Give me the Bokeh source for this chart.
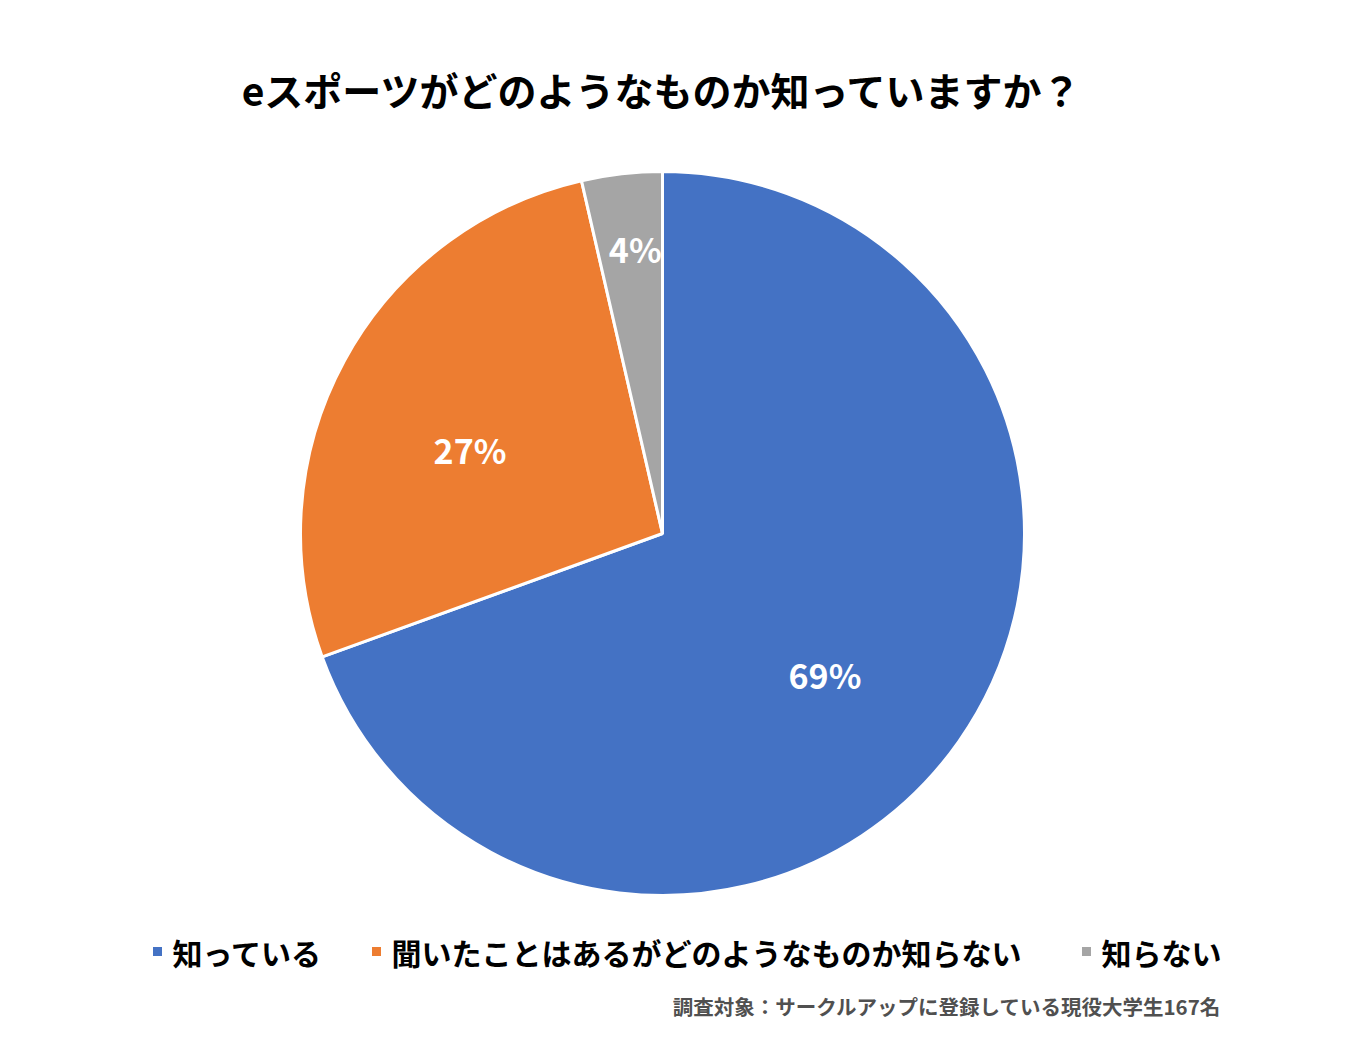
import math
from bokeh.plotting import figure
from bokeh.models import Range1d, ColumnDataSource
from bokeh.core.properties import value
from bokeh.embed import file_html
from bokeh.resources import INLINE

# ---- data ----
title = "eスポーツがどのようなものか知っていますか？"
categories = ["知っている", "聞いたことはあるがどのようなものか知らない", "知らない"]
counts = [116, 45, 6]
labels = ["69%", "27%", "4%"]
colors = ["#4472C4", "#ED7D31", "#A5A5A5"]
note = "調査対象：サークルアップに登録している現役大学生167名"

# ---- layout ----
W, H = 1334, 1035
PAGE_H = 1051
def sy(y):  # screen y -> data y
    return PAGE_H - y

FONT = "Noto Sans CJK JP"
cx, cy, R = 662, sy(533), 362
label_r = [0.595, 0.58, 0.79]
label_dang = [-6.0, 5.0, -1.0]  # degrees, label offset from slice middle
legend_sq_x = [157, 376, 1086]
legend_y = sy(951)

p = figure(width=W, height=H, output_backend="svg", toolbar_location=None,
           x_range=Range1d(0, W), y_range=Range1d(sy(H), sy(0)),
           min_border=0)
p.axis.visible = False
p.grid.visible = False
p.outline_line_color = None
p.background_fill_color = "white"
p.border_fill_color = "white"

total = sum(counts)
starts, ends, mids = [], [], []
cum = 0
for c in counts:
    a0 = math.pi / 2 - 2 * math.pi * cum / total
    cum += c
    a1 = math.pi / 2 - 2 * math.pi * cum / total
    starts.append(a0)
    ends.append(a1)
    mids.append((a0 + a1) / 2)

src = ColumnDataSource(dict(start=starts, end=ends, color=colors))
p.wedge(x=cx, y=cy, radius=R, start_angle="start", end_angle="end",
        direction="clock", fill_color="color", line_color="white",
        line_width=3, source=src)

angs = [m + math.radians(d) for m, d in zip(mids, label_dang)]
lx = [cx + R * f * math.cos(a) for f, a in zip(label_r, angs)]
ly = [cy + R * f * math.sin(a) for f, a in zip(label_r, angs)]
p.text(x=lx, y=ly, text=labels, text_color="white",
       text_font=value(FONT), text_font_style="bold", text_font_size="34px",
       text_align="center", text_baseline="middle")

# title
p.text(x=[662], y=[sy(88)], text=[title], text_color="black",
       text_font=value(FONT), text_font_style="bold", text_font_size="39px",
       text_align="center", text_baseline="middle")

# legend
p.rect(x=legend_sq_x, y=[legend_y] * 3, width=9, height=9,
       fill_color=colors, line_color=None)
p.text(x=[x + 15 for x in legend_sq_x], y=[legend_y] * 3, text=categories,
       text_color="black", text_font=value(FONT), text_font_style="bold",
       text_font_size="30px", text_align="left", text_baseline="middle")

# footnote
p.text(x=[1221], y=[sy(1005)], text=[note], text_color="#505050",
       text_font=value(FONT), text_font_style="bold", text_font_size="20.5px",
       text_align="right", text_baseline="middle")

open("out.html", "w").write(file_html(p, INLINE))
